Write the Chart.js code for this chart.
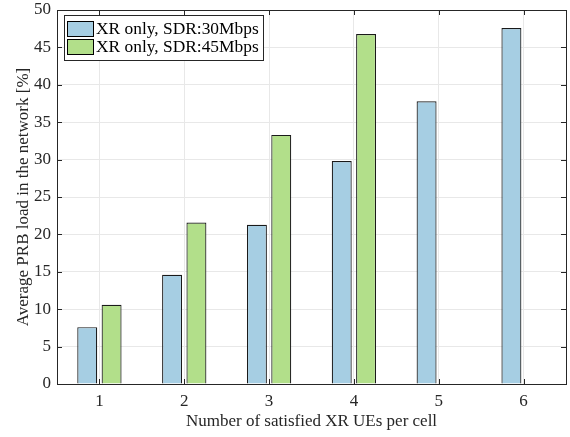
<!DOCTYPE html>
<html>
<head>
<meta charset="utf-8">
<script src="https://cdn.jsdelivr.net/npm/chart.js@4/dist/chart.umd.min.js"></script>
<style>
  html, body { margin: 0; padding: 0; background: #fff; }
  #wrap { width: 570px; height: 437px; }
</style>
</head>
<body>
<div id="wrap"><canvas id="myChart" width="570" height="437"></canvas></div>
<script>
const categories = ['1', '2', '3', '4', '5', '6'];
const sdr30 = [7.6, 14.6, 21.3, 29.8, 37.8, 47.6];
const sdr45 = [10.6, 21.6, 33.3, 46.8, 0, 0];
const seriesNames = ['XR only, SDR:30Mbps', 'XR only, SDR:45Mbps'];
const yTicks = [0, 5, 10, 15, 20, 25, 30, 35, 40, 45, 50];

const serif = '"Liberation Serif", "DejaVu Serif", serif';
const axisColor = '#262626';

// MATLAB-style box with inward ticks on all four sides
const boxTicks = {
  id: 'boxTicks',
  afterDatasetsDraw(chart) {
    const { ctx, chartArea: a, scales: { x, y } } = chart;
    const len = 5;
    ctx.save();
    ctx.strokeStyle = axisColor;
    ctx.lineWidth = 1;
    ctx.beginPath();
    categories.forEach((c, i) => {
      const px = Math.round(x.getPixelForValue(i)) + 0.5;
      ctx.moveTo(px, a.bottom); ctx.lineTo(px, a.bottom - len);
      ctx.moveTo(px, a.top); ctx.lineTo(px, a.top + len);
    });
    yTicks.forEach(v => {
      const py = Math.round(y.getPixelForValue(v)) + 0.5;
      ctx.moveTo(a.left, py); ctx.lineTo(a.left + len, py);
      ctx.moveTo(a.right, py); ctx.lineTo(a.right - len, py);
    });
    ctx.stroke();
    ctx.strokeRect(Math.round(a.left) + 0.5, Math.round(a.top) + 0.5,
      Math.round(a.right - a.left), Math.round(a.bottom - a.top));
    ctx.restore();
  }
};

// legend box in the upper left corner of the plot
const boxLegend = {
  id: 'boxLegend',
  afterDraw(chart) {
    const { ctx, chartArea: a } = chart;
    const x0 = a.left + 7, y0 = a.top + 5;
    const w = 199, h = 45;
    ctx.save();
    ctx.fillStyle = '#fff';
    ctx.fillRect(x0, y0, w, h);
    ctx.strokeStyle = axisColor;
    ctx.lineWidth = 1;
    ctx.strokeRect(x0 + 0.5, y0 + 0.5, w, h);
    ctx.font = '17.4px ' + serif;
    ctx.textBaseline = 'middle';
    chart.data.datasets.forEach((ds, i) => {
      const cy = y0 + 13 + i * 18;
      ctx.fillStyle = ds.backgroundColor;
      ctx.fillRect(x0 + 3, cy - 7, 26, 15);
      ctx.strokeStyle = '#000';
      ctx.strokeRect(x0 + 3.5, cy - 6.5, 26, 15);
      ctx.fillStyle = '#000';
      ctx.fillText(ds.label, x0 + 32, cy + 1);
    });
    ctx.restore();
  }
};

new Chart(document.getElementById('myChart'), {
  type: 'bar',
  data: {
    labels: categories,
    datasets: [{
      label: seriesNames[0],
      data: sdr30,
      backgroundColor: 'rgb(166, 206, 227)',
      borderColor: '#1a1a1a',
      borderWidth: 1.2,
      categoryPercentage: 0.574,
      barPercentage: 0.82
    }, {
      label: seriesNames[1],
      data: sdr45,
      backgroundColor: 'rgb(178, 223, 138)',
      borderColor: '#1a1a1a',
      borderWidth: 1.2,
      categoryPercentage: 0.574,
      barPercentage: 0.82
    }]
  },
  options: {
    responsive: false,
    animation: false,
    layout: { padding: { top: 0, right: 4, left: 0, bottom: 0 } },
    plugins: { legend: { display: false }, tooltip: { enabled: false } },
    scales: {
      x: {
        grid: { color: '#e8e8e8', drawTicks: false, offset: false },
        border: { display: false },
        ticks: { color: '#262626', font: { family: serif, size: 17 }, padding: 7 },
        title: {
          display: true,
          text: 'Number of satisfied XR UEs per cell',
          color: '#262626',
          font: { family: serif, size: 17 },
          padding: { top: 0, bottom: 5 }
        },
        afterFit(scale) { scale.height = 53; }
      },
      y: {
        min: 0,
        max: 50,
        afterBuildTicks(scale) { scale.ticks = yTicks.map(v => ({ value: v })); },
        grid: { color: '#e8e8e8', drawTicks: false },
        border: { display: false },
        ticks: { color: '#262626', font: { family: serif, size: 17 }, padding: 6 },
        title: {
          display: true,
          text: 'Average PRB load in the network [%]',
          color: '#262626',
          font: { family: serif, size: 17 },
          padding: { top: 13, bottom: 0 }
        },
        afterFit(scale) {
          scale.width = 57;
          scale.paddingTop = 10;
          scale.paddingBottom = 0;
        }
      }
    }
  },
  plugins: [boxTicks, boxLegend]
});
</script>
</body>
</html>
